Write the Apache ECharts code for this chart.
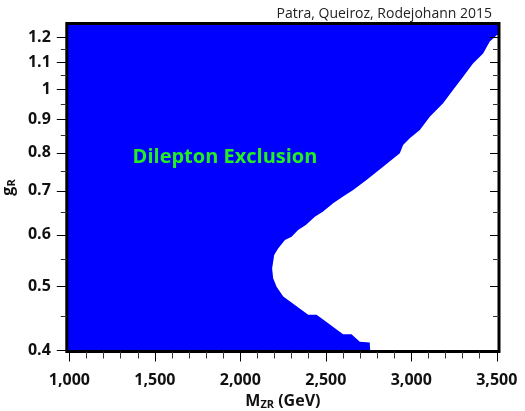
<!DOCTYPE html>
<html>
<head>
<meta charset="utf-8">
<script src="https://cdn.jsdelivr.net/npm/echarts@6/dist/echarts.min.js"></script>
<style>html,body{margin:0;padding:0;background:#fff}#c{width:525px;height:411px}</style>
</head>
<body>
<div id="c"></div>
<script>
// Axis extents
const X_MIN = 985, X_MAX = 3513;
const G_MIN = 0.3983, G_MAX = 1.2595;

// Tick values
const xMajorTicks = [1000, 1500, 2000, 2500, 3000, 3500];
const xMinorTicks = [1100, 1200, 1300, 1400, 1600, 1700, 1800, 1900, 2100, 2200, 2300, 2400,
                     2600, 2700, 2800, 2900, 3100, 3200, 3300, 3400];
const gMajorTicks = [0.4, 0.5, 0.6, 0.7, 0.8, 0.9, 1, 1.1, 1.2];
const gMinorTicks = [0.45, 0.55, 0.65, 0.75, 0.85, 0.95, 1.05, 1.15];

// Exclusion boundary (from bottom edge up to the right edge)
const boundaryM = [2760, 2757, 2699, 2650, 2601, 2514, 2446, 2397, 2319, 2251, 2212, 2192, 2186,
                   2198, 2221, 2261, 2300, 2338, 2383, 2436, 2484, 2543, 2601, 2660, 2738, 2835,
                   2933, 2952, 2991, 3050, 3108, 3186, 3244, 3303, 3361, 3420, 3459, 3501];
const boundaryG = [0.3983, 0.411, 0.412, 0.423, 0.423, 0.440, 0.453, 0.453, 0.469, 0.483, 0.500, 0.515, 0.533,
                   0.559, 0.572, 0.589, 0.596, 0.610, 0.621, 0.639, 0.651, 0.670, 0.686, 0.702, 0.727, 0.762,
                   0.799, 0.822, 0.842, 0.867, 0.908, 0.952, 0.997, 1.045, 1.095, 1.134, 1.182, 1.210];

const chart = echarts.init(document.getElementById('c'), null, {renderer: 'canvas'});
function labelFont() { return {fontFamily: 'Open Sans', fontWeight: 'bold', fontSize: 16, color: '#111'}; }
function noLine() { return {show: false, onZero: false}; }

function xAx(extra) {
  return Object.assign({type: 'value', min: X_MIN, max: X_MAX, splitLine: {show: false}, zlevel: 1, z: 10,
    axisLine: noLine(), axisTick: {show: false}, axisLabel: {show: false}}, extra);
}
function yAx(extra) {
  return Object.assign({type: 'log', logBase: 10, min: G_MIN, max: G_MAX, splitLine: {show: false}, zlevel: 1, z: 10,
    axisLine: noLine(), axisTick: {show: false}, axisLabel: {show: false}}, extra);
}

const option = {
  animation: false,
  backgroundColor: '#fff',
  title: {
    text: 'Patra, Queiroz, Rodejohann 2015', right: 28, top: 2,
    textStyle: {fontFamily: 'Open Sans', fontSize: 14, fontWeight: 'normal', color: '#222'}
  },
  grid: {left: 66.8, right: 26, top: 23.5, bottom: 59.5, containLabel: false, outerBoundsMode: 'none',
    show: true, borderColor: '#000', borderWidth: 3, backgroundColor: 'transparent', zlevel: 1, z: 10},
  xAxis: [
    xAx({position: 'bottom',
      axisTick: {show: true, inside: false, length: 10, customValues: xMajorTicks, lineStyle: {color: '#000', width: 1}},
      axisLabel: Object.assign({show: true, margin: 21, customValues: xMajorTicks,
        formatter: v => Number(v).toLocaleString('en-US')}, labelFont()),
      name: '{a|M}{b|ZR}{a| (GeV)}', nameLocation: 'middle', nameGap: 40,
      nameTextStyle: {rich: {
        a: {fontFamily: 'Open Sans', fontWeight: 'bold', fontSize: 16, color: '#111'},
        b: {fontFamily: 'Open Sans', fontWeight: 'bold', fontSize: 11, color: '#111', verticalAlign: 'bottom', padding: [6, 0, 0, 0]}
      }}
    }),
    xAx({position: 'bottom',
      axisTick: {show: true, inside: false, length: 7, customValues: xMinorTicks, lineStyle: {color: '#333', width: 1}}}),
    xAx({position: 'top'})
  ],
  yAxis: [
    yAx({position: 'left',
      axisTick: {show: true, inside: false, length: 10, customValues: gMajorTicks, lineStyle: {color: '#000', width: 1}},
      axisLabel: Object.assign({show: true, margin: 16, customValues: gMajorTicks, formatter: v => String(+(+v).toFixed(2))}, labelFont()),
      name: '{a|g}{b|R}', nameLocation: 'middle', nameGap: 44, nameRotate: 90,
      nameTextStyle: {rich: {
        a: {fontFamily: 'Open Sans', fontWeight: 'bold', fontSize: 16, color: '#111'},
        b: {fontFamily: 'Open Sans', fontWeight: 'bold', fontSize: 11, color: '#111', padding: [6, 0, 0, 0]}
      }}
    }),
    yAx({position: 'left',
      axisTick: {show: true, inside: false, length: 6, customValues: gMinorTicks, lineStyle: {color: '#333', width: 1}}}),
    yAx({position: 'right',
      axisTick: {show: true, inside: true, length: 9, customValues: gMajorTicks, lineStyle: {color: '#000', width: 1}}}),
    yAx({position: 'right',
      axisTick: {show: true, inside: true, length: 6, customValues: gMinorTicks, lineStyle: {color: '#333', width: 1}}})
  ],
  series: [{
    type: 'custom',
    coordinateSystem: 'cartesian2d',
    xAxisIndex: 0, yAxisIndex: 0,
    clip: true,
    zlevel: 0,
    z: 2,
    data: boundaryM.map((m, i) => [m, boundaryG[i]]),
    renderItem: function (params, api) {
      if (params.dataIndex !== 0) return null;
      const pts = [api.coord([X_MIN, G_MIN])];
      for (let i = 0; i < boundaryM.length; i++) pts.push(api.coord([boundaryM[i], boundaryG[i]]));
      pts.push(api.coord([X_MAX, boundaryG[boundaryG.length - 1]]));
      pts.push(api.coord([X_MAX, G_MAX]));
      pts.push(api.coord([X_MIN, G_MAX]));
      return {type: 'polygon', shape: {points: pts}, style: {fill: '#0000ff'}};
    }
  }],
  graphic: [{
    type: 'text', x: 225, y: 157, z: 20,
    style: {text: 'Dilepton Exclusion', fill: '#22ee22', font: 'bold 20px "Open Sans"', align: 'center', verticalAlign: 'middle'}
  }]
};
chart.setOption(option);
</script>
</body>
</html>
